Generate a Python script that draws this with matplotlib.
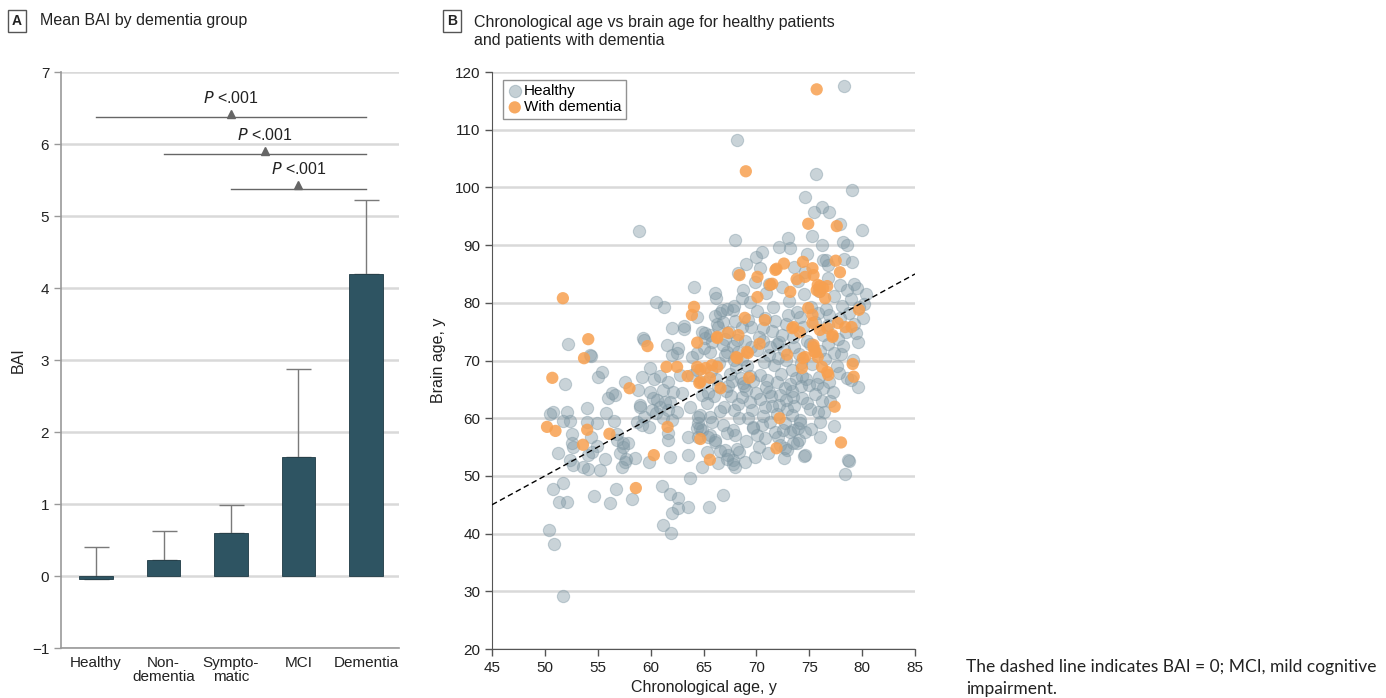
import numpy as np
import matplotlib
matplotlib.use("Agg")
import matplotlib.pyplot as plt

plt.rcParams['font.family'] = ['Liberation Sans Narrow', 'Liberation Sans', 'DejaVu Sans']
plt.rcParams['mathtext.fontset'] = 'custom'
plt.rcParams['mathtext.rm'] = 'Liberation Sans Narrow'
plt.rcParams['mathtext.it'] = 'Liberation Sans Narrow:italic'

# Panel A data
groups = ["Healthy", "Non-\ndementia", "Sympto-\nmatic", "MCI", "Dementia"]
bai_mean = [-0.04, 0.22, 0.60, 1.66, 4.19]
bai_upper = [0.40, 0.63, 0.98, 2.87, 5.22]
sig_from = [0, 1, 2]          # comparisons vs Dementia
sig_to = [4, 4, 4]
sig_y = [6.37, 5.86, 5.38]
sig_label = r"$\it{P}$ <.001"

# Panel B data: (chronological age, brain age)
healthy = [
    (78.3, 117.5), (68.2, 108.2), (75.6, 102.3), (79.0, 99.5), (74.6, 98.3), (76.2, 96.6),
    (75.4, 95.7), (76.9, 95.7), (80.0, 92.6), (77.9, 93.6), (75.3, 91.6), (76.2, 90.0),
    (78.2, 90.5), (78.6, 90.0), (73.0, 91.2), (72.1, 89.7), (73.2, 89.5), (68.0, 90.9),
    (70.5, 88.8), (70.0, 88.0), (74.8, 88.5), (76.6, 87.4), (78.3, 87.6), (79.0, 87.1),
    (79.2, 83.3), (78.6, 82.2), (58.9, 92.4), (68.3, 85.2), (64.1, 82.7), (60.5, 80.1),
    (61.3, 79.3), (76.3, 87.4), (76.8, 86.5), (79.5, 82.6), (73.6, 86.2), (74.6, 85.4),
    (70.3, 86.1), (69.0, 86.8),
    (66.1, 81.7), (66.2, 80.8), (68.6, 80.8), (66.7, 78.8), (67.2, 78.9), (67.8, 78.8),
    (66.6, 78.2), (66.3, 76.3), (66.4, 75.8), (66.8, 76.7), (64.9, 74.9), (65.1, 74.8),
    (65.6, 74.4), (68.6, 75.8), (59.3, 73.9), (62.0, 75.6), (63.2, 76.0), (63.2, 75.5),
    (64.4, 77.5), (59.4, 73.6),
    (52.2, 72.9), (54.4, 70.8), (51.9, 65.9), (55.4, 68.0), (55.0, 67.1), (57.6, 66.3),
    (58.8, 64.9), (59.2, 67.1), (59.9, 68.7), (60.3, 66.8), (60.9, 67.3), (61.6, 66.3),
    (61.5, 72.7), (62.6, 72.2), (62.0, 71.0), (62.5, 71.3), (56.3, 64.4), (56.6, 64.0),
    (56.0, 63.5), (59.9, 64.5), (59.0, 62.3), (60.6, 63.2), (61.2, 64.9), (61.4, 62.8),
    (60.9, 61.9), (61.6, 61.4), (62.0, 59.7), (50.8, 61.1), (52.1, 61.1), (51.7, 59.5),
    (52.4, 59.5), (54.0, 61.8), (55.8, 60.9), (56.5, 59.5), (54.9, 59.2), (54.0, 59.4),
    (52.6, 57.3), (52.6, 55.7), (52.7, 55.0), (54.4, 56.7), (54.9, 55.2), (54.5, 54.1),
    (54.1, 53.6), (56.8, 57.3), (56.8, 56.2), (57.4, 55.0), (57.9, 55.7), (58.7, 59.3),
    (59.2, 58.8), (59.8, 58.5), (51.2, 54.0), (52.4, 52.8), (52.7, 51.9), (53.6, 51.5),
    (55.7, 52.9), (54.1, 51.2), (55.2, 51.0), (57.3, 51.5), (57.7, 52.9), (59.8, 52.4),
    (61.2, 60.0), (61.6, 57.4), (61.6, 56.2), (61.8, 53.3), (63.5, 56.7), (63.5, 53.6),
    (50.8, 47.7), (51.7, 48.8), (52.1, 45.5), (54.6, 46.5), (56.2, 45.3), (56.7, 47.7),
    (58.2, 46.0), (61.1, 48.3), (61.8, 46.9), (62.6, 46.2), (62.6, 44.4), (63.5, 44.6),
    (62.0, 43.6), (61.2, 41.5), (61.9, 40.1), (50.4, 40.6), (50.9, 38.2), (51.7, 29.2),
    (63.7, 49.6), (64.9, 51.5), (64.5, 60.2), (64.4, 58.3), (64.7, 58.3), (54.3, 71.0),
    (58.5, 53.1), (57.6, 52.4), (57.1, 54.0), (57.4, 55.7), (50.5, 60.8), (51.3, 45.4),
    (65.5, 44.6), (66.8, 46.7), (66.4, 52.2), (67.3, 53.6), (68.0, 51.5), (67.8, 52.8),
    (67.0, 54.5), (66.1, 56.2), (65.4, 56.7), (69.7, 58.3), (70.5, 58.8), (70.8, 56.6),
    (72.0, 56.7), (72.6, 53.1), (72.7, 54.8), (73.8, 55.7), (74.5, 53.4), (73.5, 58.0),
    (74.1, 59.2), (76.4, 61.1), (77.2, 64.5), (77.8, 67.8), (78.2, 72.5), (78.8, 52.6),
    (78.4, 50.3), (79.1, 70.1), (78.9, 66.6), (78.6, 67.0), (79.6, 65.4), (75.8, 61.1),
    (74.6, 53.6), (72.9, 54.5), (72.2, 55.3), (71.8, 57.6), (69.7, 58.5), (73.5, 55.7),
    (74.0, 56.2), (73.2, 57.6), (73.9, 58.3), (74.6, 57.6), (72.7, 59.2), (74.1, 59.7),
    (73.4, 60.6), (78.7, 52.8), (64.7, 60.6), (64.5, 59.2), (65.6, 60.2), (65.8, 59.3),
    (64.9, 58.0), (64.5, 56.7), (65.6, 57.1), (66.1, 55.9), (66.8, 58.8), (67.2, 57.4),
    (67.8, 58.0), (68.0, 57.1), (68.4, 60.0), (68.2, 54.7), (66.6, 54.3), (65.3, 54.1),
    (67.8, 52.1), (67.2, 53.0), (68.4, 54.1), (68.9, 52.4),
    (62.8, 67.5), (63.9, 67.5), (64.4, 68.4), (65.0, 66.3), (65.4, 64.4), (64.9, 64.0),
    (63.0, 64.4), (62.1, 64.5), (61.8, 62.8), (60.2, 63.5), (60.1, 61.4), (59.0, 61.9),
    (59.4, 60.2), (60.5, 60.9), (62.5, 61.1), (63.7, 61.9), (63.9, 70.6), (64.4, 71.3),
    (65.0, 72.2), (65.6, 71.5), (65.1, 73.9), (65.8, 73.2), (66.8, 72.7), (67.2, 71.5),
    (68.2, 73.6),
    (66.9, 62.0), (67.6, 63.8), (68.3, 62.5), (69.0, 64.9), (69.6, 61.4), (70.3, 63.3),
    (70.9, 65.4), (71.5, 62.2), (72.2, 64.1), (72.9, 61.6), (73.5, 63.7), (74.2, 65.6),
    (74.8, 62.6), (75.5, 64.2), (76.2, 62.9), (76.9, 66.3), (70.6, 60.4), (71.9, 60.8),
    (69.2, 60.0), (67.3, 65.6), (68.7, 66.1), (73.2, 66.0),
    (66.2, 66.8), (67.0, 70.9), (67.7, 66.5), (68.3, 71.4), (69.4, 67.4), (70.1, 71.8),
    (70.7, 69.8), (71.3, 72.3), (72.0, 70.4), (72.6, 71.9), (73.4, 68.3), (74.0, 71.1),
    (74.7, 66.8), (75.3, 69.4), (75.9, 67.2), (76.5, 70.2), (77.3, 71.3), (77.6, 69.0),
    (66.5, 69.5), (67.9, 70.1), (68.5, 67.0), (69.1, 69.0), (71.0, 66.6), (71.7, 69.2),
    (72.3, 67.7), (73.7, 66.9),
    (66.1, 77.7), (67.4, 74.9), (68.0, 76.8), (68.9, 73.4), (69.5, 75.8), (70.2, 74.0),
    (70.8, 77.3), (71.5, 75.1), (72.1, 73.2), (72.8, 76.4), (73.5, 74.0), (74.1, 77.5),
    (74.8, 73.3), (75.5, 76.6), (76.3, 74.4), (76.9, 77.9), (77.7, 73.8), (78.5, 75.0),
    (79.2, 76.3), (80.1, 77.4), (79.6, 73.2), (80.2, 79.8), (79.4, 74.8),
    (67.9, 79.5), (68.7, 82.2), (69.4, 80.1), (70.1, 78.6), (70.9, 81.7), (71.6, 79.2),
    (72.4, 82.7), (73.1, 80.4), (73.8, 78.4), (74.5, 81.6), (75.2, 79.3), (75.9, 82.0),
    (76.6, 79.0), (77.3, 81.2), (78.1, 79.5), (78.9, 80.6), (79.7, 79.3), (80.4, 81.5),
    (69.9, 83.6), (71.2, 83.2), (73.9, 83.8), (76.8, 84.3), (77.9, 83.1),
    # densest part of the cloud
    (65.3, 62.6), (66.0, 63.9), (66.6, 61.2), (67.1, 64.7), (67.9, 61.5), (68.6, 63.7),
    (69.4, 62.8), (70.0, 64.3), (70.8, 61.9), (71.4, 63.9), (72.1, 62.3), (72.8, 63.2),
    (73.6, 62.2), (74.3, 63.5), (75.1, 61.6), (65.7, 68.2), (66.4, 65.5), (67.5, 67.6),
    (68.1, 68.9), (68.8, 65.6), (69.7, 66.4), (70.3, 67.5), (71.2, 64.6), (71.9, 66.2),
    (72.7, 65.3), (73.4, 64.8), (74.3, 67.3), (75.0, 65.7), (75.7, 66.0), (76.3, 65.3),
    (67.8, 72.6), (68.6, 70.2), (69.5, 72.4), (70.6, 73.3), (71.2, 70.9), (71.9, 72.8),
    (72.8, 70.1), (73.6, 72.4), (74.2, 69.6), (75.1, 72.8), (76.0, 71.6), (76.8, 72.9),
    (67.0, 73.7), (69.2, 77.1), (70.6, 75.6), (71.8, 76.8), (72.4, 74.5), (73.0, 77.9),
    (74.4, 75.8), (75.8, 78.3), (76.8, 76.2), (77.9, 77.4), (78.8, 78.2), (78.0, 71.2),
    (77.0, 62.9), (76.0, 59.4), (75.2, 58.2), (70.1, 57.1), (71.3, 59.4), (72.5, 58.0),
    (69.0, 56.0), (70.2, 55.0), (71.1, 53.9), (69.9, 53.3), (76.0, 56.7), (77.3, 58.6),
]

dementia = [
    (75.7, 117.0), (69.0, 102.8), (74.9, 93.7), (77.6, 93.3), (77.5, 87.3), (77.9, 85.3),
    (74.4, 87.1), (72.6, 86.8), (71.9, 85.9), (68.4, 84.8), (70.1, 84.5), (71.5, 83.3),
    (73.2, 81.9), (73.8, 84.1), (74.6, 84.5), (75.3, 86.0), (75.4, 84.8), (75.7, 82.2),
    (76.0, 82.9), (76.7, 82.9), (76.5, 80.8), (70.1, 81.0), (74.9, 79.1), (68.9, 77.4),
    (70.8, 77.0), (79.7, 78.8), (66.3, 74.1), (67.3, 74.8), (68.3, 74.4), (70.3, 72.9),
    (69.2, 71.3), (68.1, 70.6), (73.4, 75.6), (74.1, 74.9), (75.3, 76.5), (76.0, 75.3),
    (77.2, 74.4), (77.7, 76.5), (78.4, 75.8), (79.0, 75.8), (75.4, 72.7), (75.5, 71.5),
    (72.9, 71.0), (74.6, 70.6), (75.8, 70.6), (51.7, 80.8), (64.1, 79.3), (63.9, 77.9),
    (64.4, 73.1), (59.7, 72.5), (54.1, 73.7), (53.7, 70.4), (50.7, 67.0), (58.0, 65.2),
    (50.2, 58.5), (51.0, 57.8), (54.0, 58.0), (53.6, 55.4), (56.1, 57.3), (60.3, 53.6),
    (58.6, 47.9), (61.6, 58.5), (61.5, 68.9), (62.5, 68.9), (63.5, 67.3), (64.4, 68.9),
    (64.7, 68.4), (64.6, 66.1), (64.7, 56.4), (65.2, 68.7), (65.8, 69.2), (66.3, 68.9),
    (64.7, 66.3), (65.6, 67.0), (66.6, 65.2), (68.2, 70.4), (65.6, 52.8), (69.1, 71.5),
    (74.4, 70.4), (74.3, 68.7), (75.4, 72.3), (75.6, 71.5), (76.2, 68.9), (76.7, 68.0),
    (76.8, 67.5), (77.2, 74.1), (79.1, 69.4), (79.2, 67.2), (69.3, 67.0), (77.4, 62.0),
    (72.2, 60.0), (78.0, 55.8), (71.9, 54.8), (66.3, 73.9), (71.8, 85.7), (71.3, 83.1),
    (75.3, 77.9), (73.5, 75.8), (75.8, 83.1), (76.3, 82.6), (76.0, 81.9), (76.7, 75.6),
]

healthy_age = np.array([p[0] for p in healthy])
healthy_brain = np.array([p[1] for p in healthy])
dementia_age = np.array([p[0] for p in dementia])
dementia_brain = np.array([p[1] for p in dementia])

bar_color = "#2e5462"
grid_color = "#d9d9d9"
text_color = "#222222"

fig = plt.figure(figsize=(13.86, 6.98), dpi=100)

# ---------------- Panel A ----------------
axA = fig.add_axes([0.0440, 0.0716, 0.2439, 0.8252])
x = np.arange(len(groups))
err_up = np.array(bai_upper) - np.array(bai_mean)
axA.errorbar(x, bai_mean, yerr=[np.zeros(len(x)), err_up], fmt="none",
             ecolor="#7a7a7a", elinewidth=1, capsize=9, capthick=1, zorder=2)
axA.bar(x, bai_mean, width=0.5, color=bar_color, edgecolor="#1e3944", linewidth=0.6, zorder=3)
axA.set_xlim(-0.52, 4.49)
axA.set_ylim(-1, 7)
axA.set_yticks(range(-1, 8))
axA.set_xticks(x)
axA.set_xticklabels(groups, fontsize=11, color=text_color, linespacing=0.95)
axA.tick_params(axis="x", length=0, pad=6)
axA.tick_params(axis="y", length=5, width=1, color="#999999", labelsize=11, labelcolor=text_color)
axA.yaxis.grid(True, color=grid_color, linewidth=1.8, zorder=0)
axA.set_axisbelow(True)
for s in ["top", "right"]:
    axA.spines[s].set_visible(False)
axA.spines["left"].set_color("#999999")
axA.spines["bottom"].set_color("#999999")
axA.spines["left"].set_linewidth(1.2)
axA.spines["bottom"].set_linewidth(1.2)
axA.set_ylabel("BAI", fontsize=11.5, color=text_color, labelpad=4)

for i0, i1, yy in zip(sig_from, sig_to, sig_y):
    axA.plot([x[i0], x[i1]], [yy, yy], color="#666666", lw=1, zorder=4)
    mid = (x[i0] + x[i1]) / 2
    axA.plot(mid, yy + 0.05, marker="^", ms=6, color="#666666", zorder=4)
    axA.text(mid, yy + 0.27, sig_label, ha="center", va="center", fontsize=11.5, color=text_color)

# ---------------- Panel B ----------------
axB = fig.add_axes([0.3550, 0.0702, 0.3052, 0.8266])
axB.scatter(healthy_age, healthy_brain, s=78, color="#7f97a3", alpha=0.42,
            edgecolors="#7f97a3", linewidths=0.8, zorder=3, label="Healthy")
axB.scatter(dementia_age, dementia_brain, s=78, color="#f7a050", alpha=0.85,
            edgecolors="none", zorder=4, label="With dementia")
line_x = np.array([45, 85])
axB.plot(line_x, line_x, color="black", lw=1.0, ls=(0, (4, 2.5)), zorder=5)
axB.set_xlim(45, 85)
axB.set_ylim(20, 120)
axB.set_xticks(range(45, 90, 5))
axB.set_yticks(range(20, 130, 10))
axB.tick_params(axis="both", length=5, width=1, color="#555555", labelsize=11, labelcolor=text_color)
axB.yaxis.grid(True, color=grid_color, linewidth=1.8, zorder=0)
axB.set_axisbelow(True)
for s in ["top", "right"]:
    axB.spines[s].set_visible(False)
axB.spines["left"].set_color("#555555")
axB.spines["bottom"].set_color("#555555")
axB.set_xlabel("Chronological age, y", fontsize=11.5, color=text_color, labelpad=4)
axB.set_ylabel("Brain age, y", fontsize=11.5, color=text_color, labelpad=6)
leg = axB.legend(loc="upper left", bbox_to_anchor=(0.014, 0.995), fontsize=11, frameon=True,
                 fancybox=False, edgecolor="#777777", handletextpad=0.1, handlelength=1.0,
                 borderpad=0.3, labelspacing=0.15, borderaxespad=0.3)
leg.get_frame().set_linewidth(1.0)
for h in leg.legend_handles:
    h.set_alpha(0.9 if h.get_label() == "With dementia" else 0.45)

# ---------------- Panel titles ----------------
def panel_tag(xpx, ypx, letter):
    fig.text(xpx / 1386, 1 - ypx / 698, letter, fontsize=10, fontweight="bold", ha="center",
             va="center", color=text_color,
             bbox=dict(boxstyle="square,pad=0.3", fc="white", ec="#555555", lw=1))

panel_tag(17, 21, "A")
fig.text(40 / 1386, 1 - 21 / 698, "Mean BAI by dementia group", fontsize=11.5,
         ha="left", va="center", color=text_color)
panel_tag(452, 21, "B")
fig.text(474 / 1386, 1 - 31 / 698,
         "Chronological age vs brain age for healthy patients\nand patients with dementia",
         fontsize=11.5, ha="left", va="center", color=text_color, linespacing=1.25)

fig.text(966 / 1386, 1 - 678 / 698,
         "The dashed line indicates BAI = 0; MCI, mild cognitive\nimpairment.",
         fontsize=12.5, ha="left", va="center", color=text_color, family=["Lato", "DejaVu Sans"],
         linespacing=1.5)

fig.savefig("out.png", dpi=100)
